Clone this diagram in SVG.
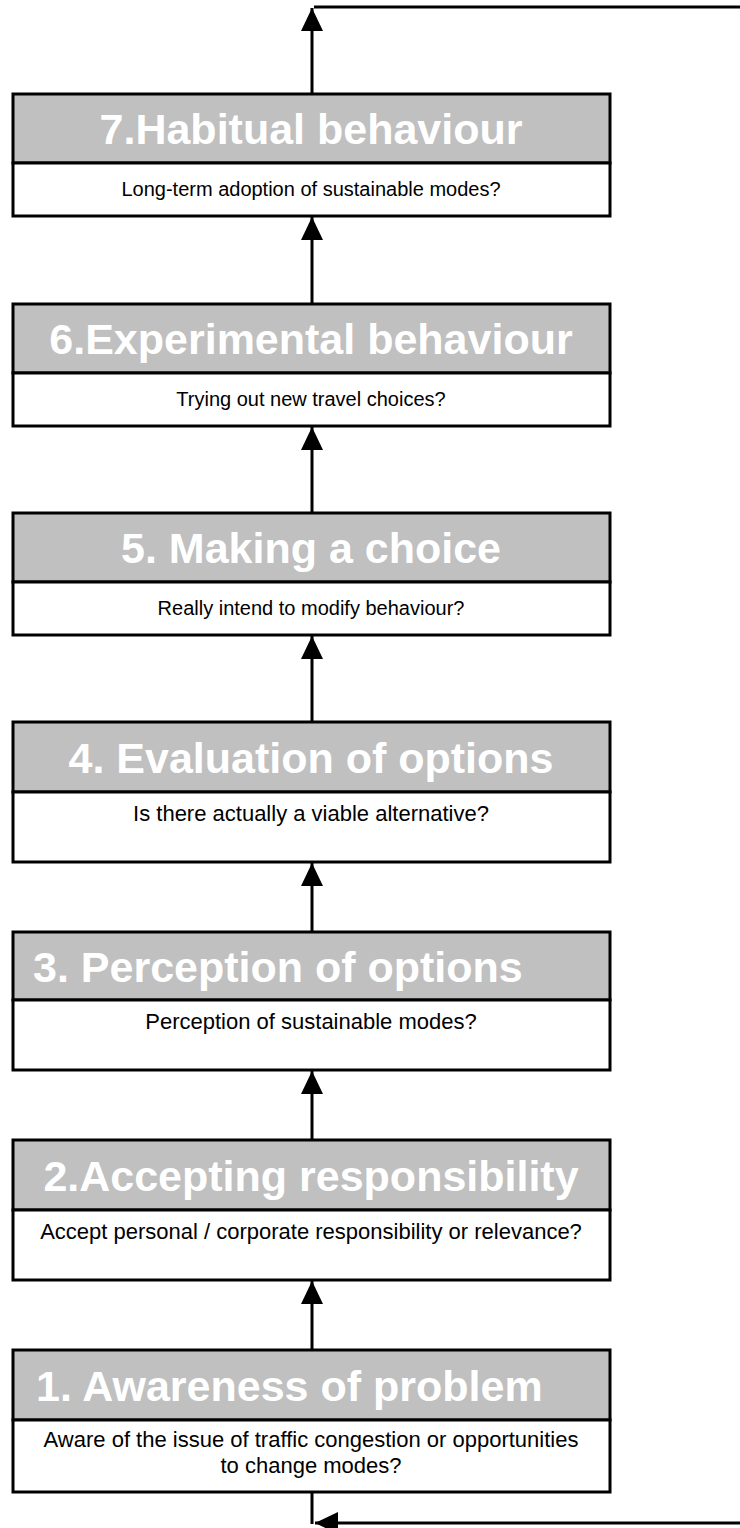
<svg xmlns="http://www.w3.org/2000/svg" width="740" height="1528" viewBox="0 0 740 1528">
<style>
.hdr{fill:#c0c0c0;stroke:#000;stroke-width:3}
.body{fill:#fff;stroke:#000;stroke-width:3}
.title{font-family:"Liberation Sans",Arial,sans-serif;font-weight:bold;font-size:43px;fill:#fff}
.sub{font-family:"Liberation Sans",Arial,sans-serif;font-size:20px;fill:#000}
.subL{font-family:"Liberation Sans",Arial,sans-serif;font-size:22px;fill:#000}
.conn{stroke:#000;stroke-width:3;fill:none}
</style>
<defs>
<marker id="ah" markerUnits="userSpaceOnUse" markerWidth="24" markerHeight="24" viewBox="0 0 24 24" refX="23" refY="12" orient="auto">
<path d="M0,1 L23,12 L0,23 Z" fill="#000"/>
</marker>
</defs>
<rect width="740" height="1528" fill="#fff"/>
<g id="connectors">
<line class="conn" x1="312" y1="94" x2="312" y2="8" marker-end="url(#ah)"/>
<line class="conn" x1="314" y1="7" x2="740" y2="7"/>
<line class="conn" x1="312" y1="304" x2="312" y2="217" marker-end="url(#ah)"/>
<line class="conn" x1="312" y1="513" x2="312" y2="427" marker-end="url(#ah)"/>
<line class="conn" x1="312" y1="722" x2="312" y2="636" marker-end="url(#ah)"/>
<line class="conn" x1="312" y1="932" x2="312" y2="863" marker-end="url(#ah)"/>
<line class="conn" x1="312" y1="1140" x2="312" y2="1071" marker-end="url(#ah)"/>
<line class="conn" x1="312" y1="1350" x2="312" y2="1281" marker-end="url(#ah)"/>
<line class="conn" x1="312" y1="1492" x2="312" y2="1524"/>
<line class="conn" x1="740" y1="1523" x2="315" y2="1523" marker-end="url(#ah)"/>
</g>
<g id="node7">
<rect class="hdr" x="13" y="94" width="597" height="69"/>
<rect class="body" x="13" y="163" width="597" height="53"/>
<text class="title" x="311" y="144" text-anchor="middle">7.Habitual behaviour</text>
<text class="sub" x="311" y="196" text-anchor="middle">Long-term adoption of sustainable modes?</text>
</g>
<g id="node6">
<rect class="hdr" x="13" y="304" width="597" height="69"/>
<rect class="body" x="13" y="373" width="597" height="53"/>
<text class="title" x="311" y="354" text-anchor="middle">6.Experimental behaviour</text>
<text class="sub" x="311" y="406" text-anchor="middle">Trying out new travel choices?</text>
</g>
<g id="node5">
<rect class="hdr" x="13" y="513" width="597" height="69"/>
<rect class="body" x="13" y="582" width="597" height="53"/>
<text class="title" x="311" y="563" text-anchor="middle">5. Making a choice</text>
<text class="sub" x="311" y="615" text-anchor="middle">Really intend to modify behaviour?</text>
</g>
<g id="node4">
<rect class="hdr" x="13" y="722" width="597" height="70"/>
<rect class="body" x="13" y="792" width="597" height="70"/>
<text class="title" x="311" y="773" text-anchor="middle">4. Evaluation of options</text>
<text class="subL" x="311" y="821" text-anchor="middle">Is there actually a viable alternative?</text>
</g>
<g id="node3">
<rect class="hdr" x="13" y="932" width="597" height="68"/>
<rect class="body" x="13" y="1000" width="597" height="70"/>
<text class="title" x="33" y="982">3. Perception of options</text>
<text class="subL" x="311" y="1029" text-anchor="middle">Perception of sustainable modes?</text>
</g>
<g id="node2">
<rect class="hdr" x="13" y="1140" width="597" height="70"/>
<rect class="body" x="13" y="1210" width="597" height="70"/>
<text class="title" x="311" y="1191" text-anchor="middle">2.Accepting responsibility</text>
<text class="subL" x="311" y="1239" text-anchor="middle">Accept personal / corporate responsibility or relevance?</text>
</g>
<g id="node1">
<rect class="hdr" x="13" y="1350" width="597" height="70"/>
<rect class="body" x="13" y="1420" width="597" height="72"/>
<text class="title" x="36" y="1401">1. Awareness of problem</text>
<text class="subL" x="311" y="1447" text-anchor="middle">Aware of the issue of traffic congestion or opportunities</text>
<text class="subL" x="311" y="1473" text-anchor="middle">to change modes?</text>
</g>
</svg>
